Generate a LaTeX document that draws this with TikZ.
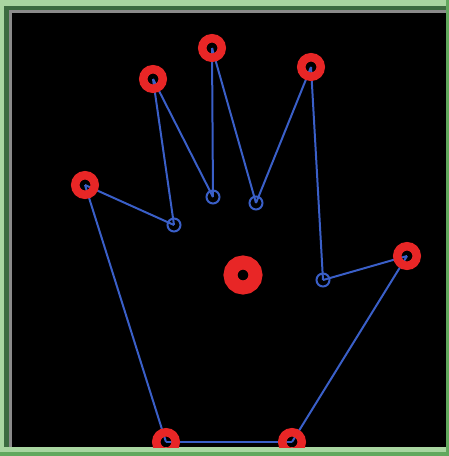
\documentclass[tikz,border=0pt]{standalone}
\definecolor{frameLight}{HTML}{A9D6A1}
\definecolor{frameDark}{HTML}{3C6B40}
\definecolor{frameMid}{HTML}{62A85E}
\definecolor{frameGray}{HTML}{8A8A8A}
\definecolor{handBlue}{HTML}{3A5FC8}
\definecolor{tipRed}{HTML}{E82626}
\tikzset{
  contour/.style={draw=handBlue, line width=2pt},
  fingertip/.style={circle, draw=tipRed, line width=8.5pt, minimum size=19.5pt, inner sep=0pt},
  palmcentre/.style={circle, draw=tipRed, line width=14pt, minimum size=25pt, inner sep=0pt},
  valley/.style={circle, draw=handBlue, line width=2pt, minimum size=13pt, inner sep=0pt},
}
\begin{document}
\begin{tikzpicture}[x=1pt, y=-1pt]
\useasboundingbox (0,0) rectangle (449,456);
% frame
\fill[frameLight] (0,0) rectangle (449,456);
\fill[frameMid] (0,452) rectangle (449,456);
\fill[frameMid] (446,0) rectangle (449,452);
\fill[frameDark] (4,6) rectangle (9,447);
\fill[frameDark] (4,6) rectangle (446,10);
\fill[frameGray] (9,10) rectangle (12,447);
\fill[frameGray] (9,10) rectangle (446,13);
\fill[black] (12,13) rectangle (446,447);

\begin{scope}
\clip (12,13) rectangle (446,447);
% key points of the hand
\coordinate (t1) at (85,185);
\coordinate (t2) at (153,79);
\coordinate (t3) at (212,48);
\coordinate (t4) at (311,67);
\coordinate (t5) at (407,256);
\coordinate (bl) at (166,442);
\coordinate (br) at (292,442);
\coordinate (v1) at (174,225);
\coordinate (v2) at (213,197);
\coordinate (v3) at (256,203);
\coordinate (v4) at (323,280);
\coordinate (pc) at (243,275);

% hand contour
\draw[contour] (bl) -- (t1);
\draw[contour] (t1) -- (v1);
\draw[contour] (v1) -- (t2);
\draw[contour] (t2) -- (v2);
\draw[contour] (v2) -- (t3);
\draw[contour] (t3) -- (v3);
\draw[contour] (v3) -- (t4);
\draw[contour] (t4) -- (v4);
\draw[contour] (v4) -- (t5);
\draw[contour] (t5) -- (br);
\draw[contour] (br) -- (bl);

% valleys between fingers
\node[valley] (valley1) at (v1) {};
\node[valley] (valley2) at (v2) {};
\node[valley] (valley3) at (v3) {};
\node[valley] (valley4) at (v4) {};

% fingertips and wrist points
\node[fingertip] (tip1) at (t1) {};
\node[fingertip] (tip2) at (t2) {};
\node[fingertip] (tip3) at (t3) {};
\node[fingertip] (tip4) at (t4) {};
\node[fingertip] (tip5) at (t5) {};
\node[fingertip] (wristL) at (bl) {};
\node[fingertip] (wristR) at (br) {};

% palm centre
\node[palmcentre] (palm) at (pc) {};
\end{scope}
\end{tikzpicture}
\end{document}
